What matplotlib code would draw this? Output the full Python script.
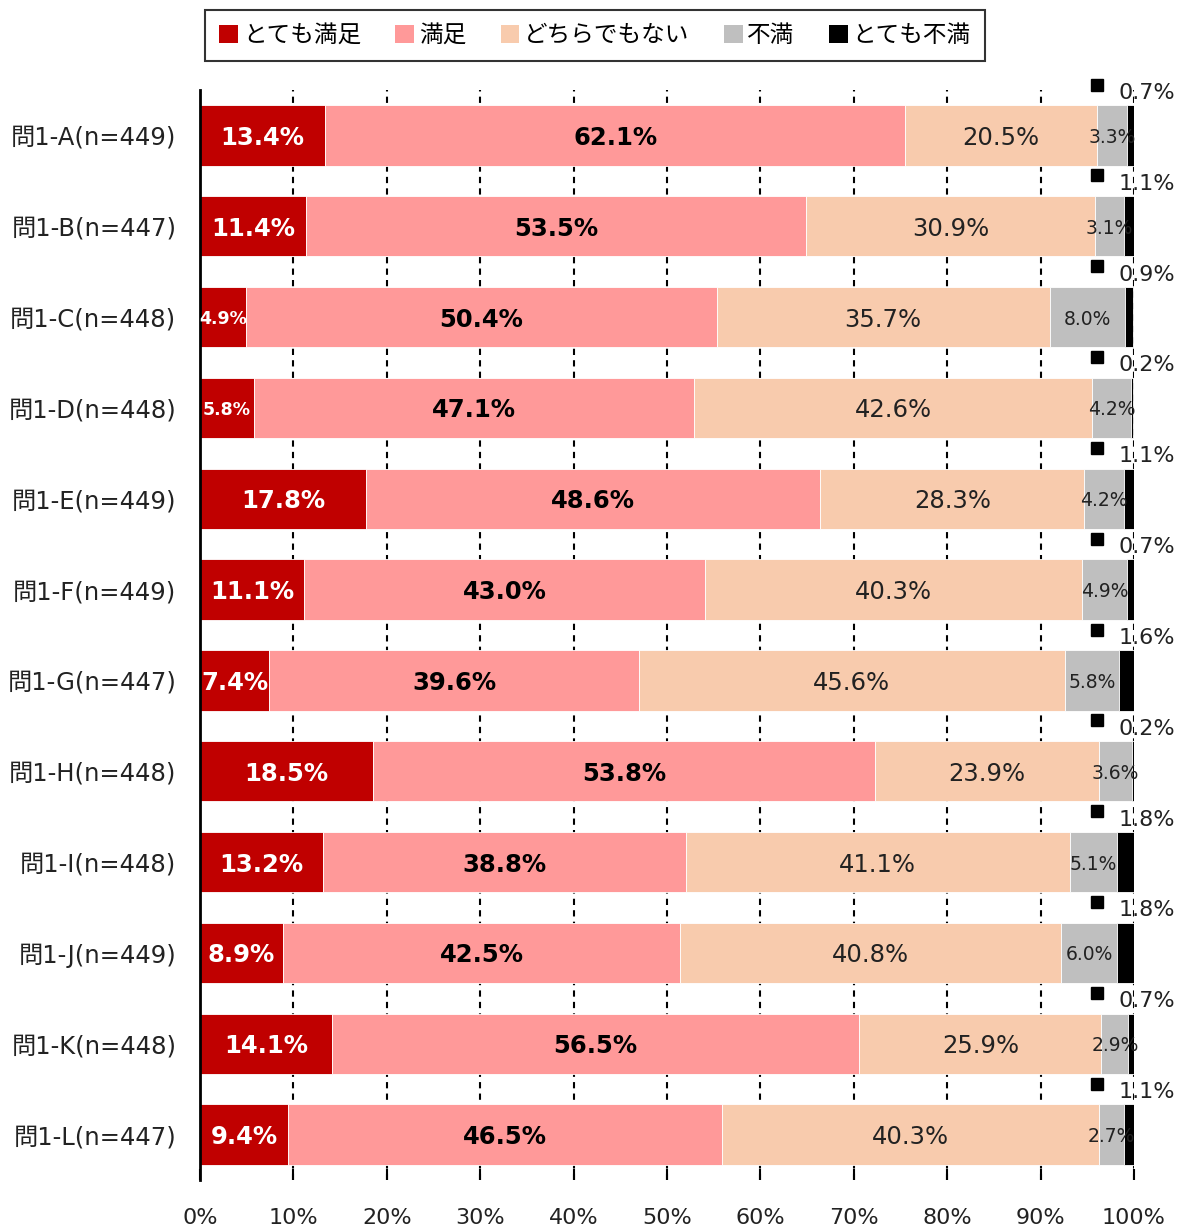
import matplotlib
matplotlib.use("Agg")
import matplotlib.pyplot as plt
from matplotlib.patches import Patch
import numpy as np

plt.rcParams['font.family'] = ['DejaVu Sans', 'Noto Sans CJK JP']

categories = ["問1-A(n=449)", "問1-B(n=447)", "問1-C(n=448)", "問1-D(n=448)",
              "問1-E(n=449)", "問1-F(n=449)", "問1-G(n=447)", "問1-H(n=448)",
              "問1-I(n=448)", "問1-J(n=449)", "問1-K(n=448)", "問1-L(n=447)"]
series_names = ["とても満足", "満足", "どちらでもない", "不満", "とても不満"]
very_satisfied = [13.4, 11.4, 4.9, 5.8, 17.8, 11.1, 7.4, 18.5, 13.2, 8.9, 14.1, 9.4]
satisfied = [62.1, 53.5, 50.4, 47.1, 48.6, 43.0, 39.6, 53.8, 38.8, 42.5, 56.5, 46.5]
neutral = [20.5, 30.9, 35.7, 42.6, 28.3, 40.3, 45.6, 23.9, 41.1, 40.8, 25.9, 40.3]
dissatisfied = [3.3, 3.1, 8.0, 4.2, 4.2, 4.9, 5.8, 3.6, 5.1, 6.0, 2.9, 2.7]
very_dissatisfied = [0.7, 1.1, 0.9, 0.2, 1.1, 0.7, 1.6, 0.2, 1.8, 1.8, 0.7, 1.1]
xtick_labels = ["0%", "10%", "20%", "30%", "40%", "50%", "60%", "70%", "80%", "90%", "100%"]

colors = ["#C00000", "#FF9999", "#F8CBAD", "#BFBFBF", "#000000"]
series = [very_satisfied, satisfied, neutral, dissatisfied, very_dissatisfied]

W, H = 1178, 1227
fig = plt.figure(figsize=(W / 100, H / 100), dpi=100)
ax_left, ax_right = 200 / W, 1134 / W
ax_top, ax_bot = 1 - 90 / H, 1 - 1180 / H
ax = fig.add_axes([ax_left, ax_bot, ax_right - ax_left, ax_top - ax_bot])

n = len(categories)
y = np.arange(n)
left = np.zeros(n)
bar_h = 0.665
for vals, col in zip(series, colors):
    vals = np.array(vals)
    ax.barh(y, vals, left=left, height=bar_h, color=col, edgecolor='white',
            linewidth=0.6, zorder=2)
    left = left + vals

ax.set_xlim(0, 100)
ax.set_ylim(n - 0.5, -0.5)

# grid
for gx in range(10, 101, 10):
    ax.axvline(gx, color='black', linestyle=(0, (3, 2.5)), linewidth=1.5, zorder=1)

# data labels
cum = np.zeros(n)
for si, (vals, col) in enumerate(zip(series, colors)):
    for i, v in enumerate(vals):
        cx = cum[i] + v / 2
        if si == 0:
            fs = 12.5 if v < 7 else 17.5
            ax.text(cx, i, f"{v:.1f}%", ha='center', va='center_baseline', color='white',
                    fontsize=fs, fontweight='bold', zorder=3)
        elif si == 1:
            ax.text(cx, i, f"{v:.1f}%", ha='center', va='center_baseline', color='black',
                    fontsize=17.5, fontweight='bold', zorder=3)
        elif si == 2:
            ax.text(cx, i, f"{v:.1f}%", ha='center', va='center_baseline', color='#222222',
                    fontsize=17.5, zorder=3)
        elif si == 3:
            ax.text(cx, i, f"{v:.1f}%", ha='center', va='center_baseline', color='#222222',
                    fontsize=13.5, zorder=3)
        else:
            ax.plot([96.0], [i - 0.56], marker='s', color='black', markersize=8.5,
                    zorder=3, clip_on=False)
            ax.text(98.3, i - 0.49, f"{v:.1f}%", ha='left', va='center_baseline',
                    color='#222222', fontsize=16, zorder=3, clip_on=False)
    cum = cum + np.array(vals)

# axes styling
ax.set_yticks(y)
ax.set_yticklabels(categories, fontsize=17.5, color='#222222')
ax.tick_params(axis='y', length=0, pad=17)
ax.set_xticks(np.arange(0, 101, 10))
ax.set_xticklabels(xtick_labels, fontsize=16, color='#222222')
ax.tick_params(axis='x', direction='in', length=8, width=1.5, pad=20)
for s in ['top', 'right', 'bottom']:
    ax.spines[s].set_visible(False)
ax.spines['left'].set_linewidth(2)
ax.spines['left'].set_color('black')

handles = [Patch(facecolor=c, edgecolor='none') for c in colors]
leg = fig.legend(handles, series_names, loc='center',
                 bbox_to_anchor=(595 / W, 1 - 35.5 / H), ncol=5,
                 prop={'family': ['Noto Sans CJK JP'], 'size': 17},
                 frameon=True, fancybox=False, edgecolor='black',
                 handlelength=0.8, handleheight=0.8, handletextpad=0.2,
                 columnspacing=1.45, borderpad=0.6)
leg.get_frame().set_linewidth(1.5)

fig.savefig("out.png", dpi=100)
